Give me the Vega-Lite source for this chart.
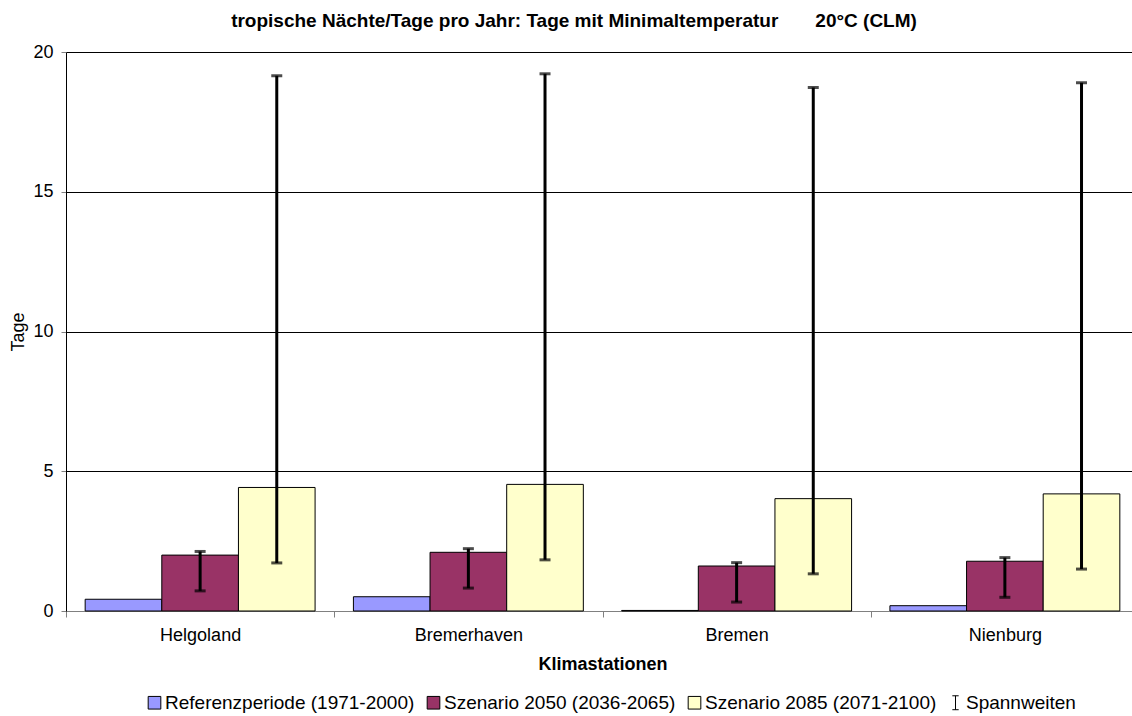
{
  "$schema": "https://vega.github.io/schema/vega-lite/v6.json",
  "width": 1066,
  "height": 559,
  "autosize": {"type": "none"},
  "padding": {"left": 66, "top": 52, "right": 0, "bottom": 105},
  "background": "white",
  "config": {
    "view": {"stroke": null},
    "font": "Liberation Sans",
    "axisX": {
      "tickBand": "extent", "tickSize": 6, "tickColor": "#808080", "domainColor": "#808080",
      "labelFontSize": 18, "labelPadding": 9, "labelAngle": 0, "labelColor": "black",
      "titleFontSize": 18, "titleFontWeight": "bold", "titleColor": "black",
      "titleY": 53, "titleBaseline": "middle", "grid": false
    },
    "axisY": {
      "tickSize": 5, "tickColor": "#808080", "domainColor": "black",
      "gridColor": "black", "gridOpacity": 1, "gridWidth": 1,
      "labelFontSize": 18, "labelPadding": 8, "labelColor": "black",
      "titleFontSize": 18, "titleFontWeight": "normal", "titleColor": "black",
      "titleAngle": 270, "titleX": -48, "titleY": 279.5, "titleAlign": "center", "titleBaseline": "middle"
    }
  },
  "title": {
    "text": "tropische Nächte/Tage pro Jahr: Tage mit Minimaltemperatur \u00a0\u00a0\u00a0\u00a0\u00a0\u00a020°C (CLM)",
    "font": "Liberation Sans", "fontSize": 19, "fontWeight": "bold", "color": "black",
    "anchor": "middle", "frame": "group", "dx": -25, "offset": 27, "dy": 30, "baseline": "alphabetic"
  },
  "data": {
    "values": [
      {"station": "Helgoland", "series": "Referenzperiode (1971-2000)", "value": 0.42},
      {"station": "Helgoland", "series": "Szenario 2050 (2036-2065)", "value": 2.0, "low": 0.72, "high": 2.13},
      {"station": "Helgoland", "series": "Szenario 2085 (2071-2100)", "value": 4.42, "low": 1.72, "high": 19.15},
      {"station": "Bremerhaven", "series": "Referenzperiode (1971-2000)", "value": 0.51},
      {"station": "Bremerhaven", "series": "Szenario 2050 (2036-2065)", "value": 2.1, "low": 0.82, "high": 2.23},
      {"station": "Bremerhaven", "series": "Szenario 2085 (2071-2100)", "value": 4.53, "low": 1.83, "high": 19.22},
      {"station": "Bremen", "series": "Referenzperiode (1971-2000)", "value": 0.02},
      {"station": "Bremen", "series": "Szenario 2050 (2036-2065)", "value": 1.61, "low": 0.32, "high": 1.73},
      {"station": "Bremen", "series": "Szenario 2085 (2071-2100)", "value": 4.02, "low": 1.33, "high": 18.73},
      {"station": "Nienburg", "series": "Referenzperiode (1971-2000)", "value": 0.19},
      {"station": "Nienburg", "series": "Szenario 2050 (2036-2065)", "value": 1.78, "low": 0.49, "high": 1.91},
      {"station": "Nienburg", "series": "Szenario 2085 (2071-2100)", "value": 4.19, "low": 1.5, "high": 18.9}
    ]
  },
  "encoding": {
    "x": {
      "field": "station", "type": "nominal",
      "sort": ["Helgoland", "Bremerhaven", "Bremen", "Nienburg"],
      "scale": {"range": [0, 1073], "paddingInner": 0, "paddingOuter": 0},
      "title": "Klimastationen"
    },
    "xOffset": {
      "field": "series", "type": "nominal",
      "sort": ["Referenzperiode (1971-2000)", "Szenario 2050 (2036-2065)", "Szenario 2085 (2071-2100)"],
      "scale": {"paddingInner": 0, "paddingOuter": 0.25}
    }
  },
  "layer": [
    {
      "mark": {"type": "bar", "stroke": "black", "strokeWidth": 1},
      "encoding": {
        "y": {
          "field": "value", "type": "quantitative", "title": "Tage",
          "scale": {"domain": [0, 20], "nice": false},
          "axis": {"values": [0, 5, 10, 15, 20]}
        },
        "color": {
          "field": "series", "type": "nominal",
          "scale": {
            "domain": ["Referenzperiode (1971-2000)", "Szenario 2050 (2036-2065)", "Szenario 2085 (2071-2100)", "Spannweiten"],
            "range": ["#9999FF", "#993366", "#FFFFCC", "transparent"]
          },
          "legend": {
            "orient": "none", "direction": "horizontal", "legendX": 79, "legendY": 641,
            "title": null, "padding": 0, "symbolType": "square", "symbolSize": 160,
            "symbolStrokeColor": "black", "symbolStrokeWidth": 1, "symbolOpacity": 1,
            "labelFontSize": 19, "labelColor": "black", "labelOffset": 1, "columnPadding": 9,
            "labelLimit": 400,
            "encode": {
              "symbols": {
                "update": {
                  "shape": {"signal": "datum.value === 'Spannweiten' ? 'M-0.5,-1.1H0.5M0,-1.1V1.1M-0.5,1.1H0.5' : 'square'"}
                }
              }
            }
          }
        }
      }
    },
    {
      "transform": [{"filter": "isValid(datum.low)"}],
      "mark": {"type": "rule", "strokeWidth": 3, "color": "black"},
      "encoding": {
        "y": {"field": "low", "type": "quantitative", "title": "Tage", "scale": {"domain": [0, 20], "nice": false}},
        "y2": {"field": "high"}
      }
    },
    {
      "transform": [{"filter": "isValid(datum.low)"}],
      "mark": {"type": "tick", "thickness": 3, "size": 11, "color": "black"},
      "encoding": {
        "y": {"field": "low", "type": "quantitative", "title": "Tage", "scale": {"domain": [0, 20], "nice": false}}
      }
    },
    {
      "transform": [{"filter": "isValid(datum.high)"}],
      "mark": {"type": "tick", "thickness": 3, "size": 11, "color": "black"},
      "encoding": {
        "y": {"field": "high", "type": "quantitative", "title": "Tage", "scale": {"domain": [0, 20], "nice": false}}
      }
    }
  ]
}
